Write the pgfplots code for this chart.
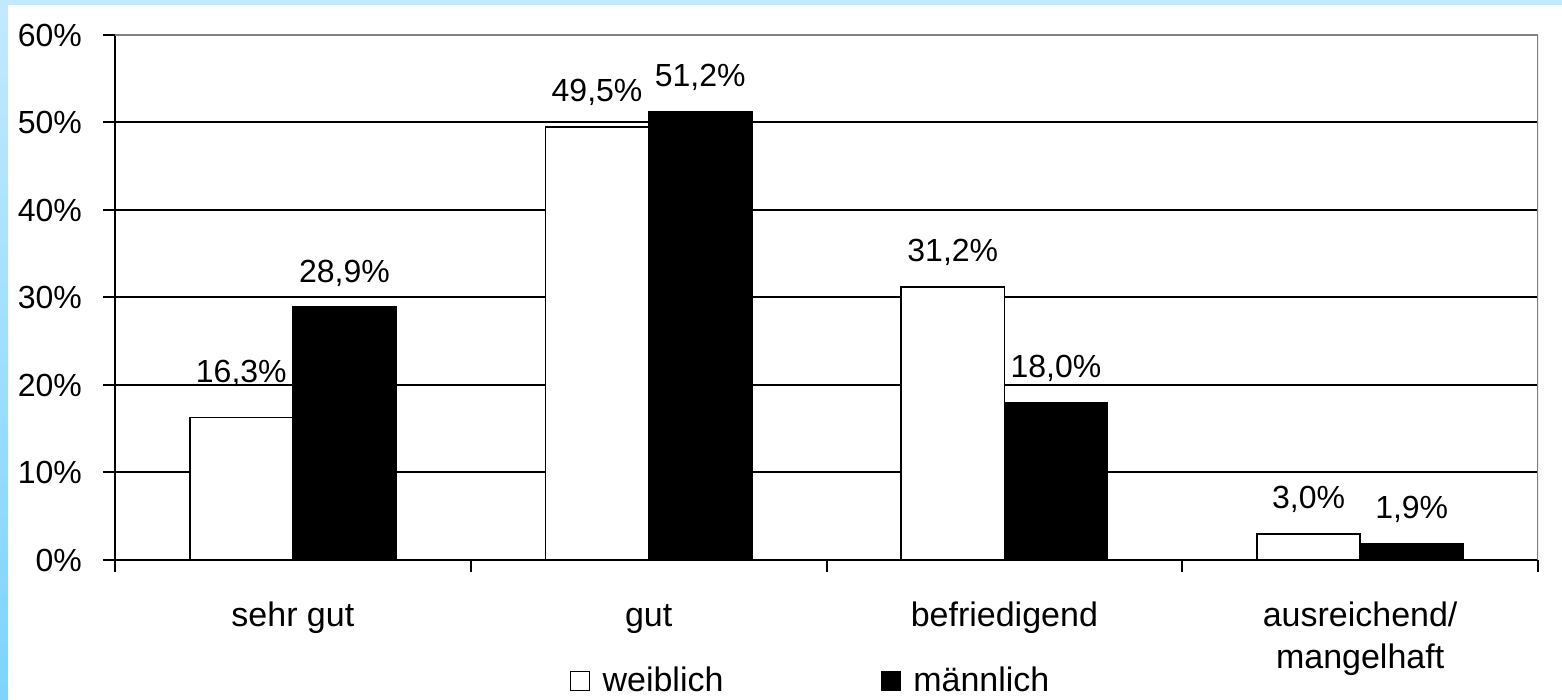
\documentclass[border=0pt]{standalone}
\usepackage{fontspec}
\setmainfont{Liberation Sans}
\usepackage{pgfplots}
\pgfplotsset{compat=1.18}
\pgfkeys{/pgf/number format/assume math mode=true}
\definecolor{frameTop}{RGB}{194,233,255}
\definecolor{frameBot}{RGB}{124,212,255}
\definecolor{boxgray}{RGB}{128,128,128}

\pgfplotstableread{
idx weiblich maennlich
0 16.3 28.9
1 49.5 51.2
2 31.2 18.0
3 3.0 1.9
}\grades

\newcommand{\pctlabel}{\pgfmathprintnumber[fixed,fixed zerofill,precision=1,use comma]{\pgfplotspointmeta}\%}

\begin{document}
\begin{tikzpicture}[font=\fontsize{16}{20}\selectfont]
\useasboundingbox (0,0) rectangle (781pt,350pt);
\fill[white] (0,0) rectangle (781pt,350pt);
\shade[top color=frameTop, bottom color=frameBot] (0,0) rectangle (4pt,350pt);
\fill[frameTop] (0,347.5pt) rectangle (781pt,350pt);
\begin{axis}[
  at={(57.5pt,70pt)}, anchor=south west,
  scale only axis, width=711.5pt, height=262.5pt,
  ybar=0pt, bar width=0.29,
  xmin=-0.5, xmax=3.5, ymin=0, ymax=60,
  axis x line*=bottom, axis y line*=left,
  axis line style={black, line width=1pt, -},
  tick align=outside, major tick length=6pt,
  tick style={black, line width=1pt},
  xtick={-0.5,0.5,1.5,2.5,3.5},
  x tick label as interval,
  xticklabels={\strut sehr gut, \strut gut, \strut befriedigend, {\strut ausreichend/\\\strut mangelhaft}},
  xticklabel style={align=center, anchor=north, yshift=-9pt, font=\fontsize{17}{21}\selectfont},
  ytick={0,10,20,30,40,50},
  extra y ticks={60},
  extra y tick style={grid=none},
  yticklabel={\pgfmathprintnumber{\tick}\%},
  yticklabel style={xshift=-7pt},
  ymajorgrids,
  grid style={black, line width=1pt},
  nodes near coords={\pctlabel},
  every node near coord/.append style={anchor=base, yshift=12.5pt, black},
  legend columns=2,
  legend style={at={(0.4895,-0.2305)}, anchor=center, draw=none, fill=none,
    font=\fontsize{17}{21}\selectfont,
    /tikz/every even column/.append style={column sep=76.5pt}},
]
\addplot[fill=white, draw=black, line width=0.8pt,
  nodes near coords={\ifnum\coordindex=0 \raisebox{5pt}{\pctlabel}\else\pctlabel\fi},
  legend image code/.code={\draw[fill=white, draw=black, line width=0.8pt] (0pt,-4.75pt) rectangle (9.5pt,4.75pt); \path[draw=none, fill=none] (0pt,0pt) -- (14pt,0pt);}]
  table[x=idx, y=weiblich] {\grades};
\addlegendentry{weiblich}
\addplot[fill=black, draw=black, line width=0.8pt,
  legend image code/.code={\draw[fill=black, draw=black, line width=0.8pt] (0pt,-4.75pt) rectangle (9.5pt,4.75pt); \path[draw=none, fill=none] (0pt,0pt) -- (14pt,0pt);}]
  table[x=idx, y=maennlich] {\grades};
\addlegendentry{männlich}
\draw[boxgray, line width=1pt] (rel axis cs:0,1) -- (rel axis cs:1,1) -- (rel axis cs:1,0);
\end{axis}
\end{tikzpicture}
\end{document}
